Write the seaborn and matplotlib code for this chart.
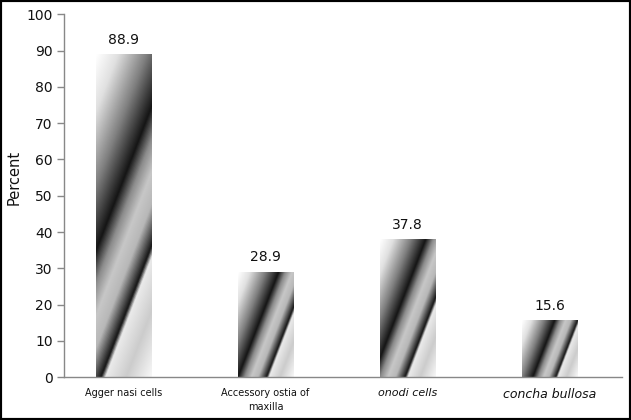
import numpy as np
import matplotlib
matplotlib.use("Agg")
import matplotlib.pyplot as plt
import seaborn as sns
from matplotlib.colors import LinearSegmentedColormap
from matplotlib.patches import Rectangle

categories = ["Agger nasi cells", "Accessory ostia of\nmaxilla", "onodi cells", "concha bullosa"]
values = [88.9, 28.9, 37.8, 15.6]
value_labels = ["88.9", "28.9", "37.8", "15.6"]
label_styles = ["normal", "normal", "italic", "italic"]
label_sizes = [7, 7, 8, 9]

sns.set_style("white")
plt.rcParams["font.family"] = ["DejaVu Sans"]

fig = plt.figure(figsize=(6.31, 4.20), dpi=100)
ax = fig.add_axes([0.101, 0.102, 0.885, 0.864])

sns.barplot(x=categories, y=values, width=0.39, color="white", ax=ax)

ax.set_xlim(-0.42, 3.51)
ax.set_ylim(0, 100)

# diagonal "chrome" gradient like the old Excel fill
stops = [(0.0, 1.0), (0.12, 0.88), (0.28, 0.50), (0.42, 0.08), (0.49, 0.55),
         (0.56, 0.78), (0.63, 0.72), (0.72, 0.08), (0.745, 0.92), (0.86, 0.80),
         (1.0, 0.97)]
cmap = LinearSegmentedColormap.from_list("chrome", [(p, (g, g, g)) for p, g in stops])
slope = 2.6

fig.canvas.draw()
for bar in ax.patches:
    x0, y0 = bar.get_x(), bar.get_y()
    w, h = bar.get_width(), bar.get_height()
    (px0, py0), (px1, py1) = ax.transData.transform([(x0, y0), (x0 + w, y0 + h)])
    pw, ph = px1 - px0, py1 - py0
    nx, ny = max(int(pw * 2), 2), max(int(ph * 2), 2)
    xx, yy = np.meshgrid(np.linspace(0, pw, nx), np.linspace(0, ph, ny))
    s = (slope * xx - yy + ph) / (slope * pw + ph)
    ax.imshow(s, cmap=cmap, vmin=0, vmax=1, origin="lower", aspect="auto",
              extent=(x0, x0 + w, y0, y0 + h), interpolation="bilinear", zorder=2)
    bar.set_facecolor("none")
    bar.set_edgecolor("none")

ax.set_xlim(-0.42, 3.51)
ax.set_ylim(0, 100)

for i, v in enumerate(values):
    ax.text(i, v + 2.2, value_labels[i], ha="center", va="bottom", fontsize=10, color="#111111")

ax.set_yticks(range(0, 101, 10))
ax.tick_params(axis="y", which="major", left=True, length=5, width=1, color="#888888",
               labelsize=10, labelcolor="#111111", pad=3)
ax.tick_params(axis="x", bottom=False, length=0, pad=8)
ax.set_xticks(range(len(categories)))
ax.set_xticklabels([])
for i, c in enumerate(categories):
    ax.text(i, -3.0, c, ha="center", va="top", fontsize=label_sizes[i],
            fontstyle=label_styles[i], color="#111111", linespacing=1.5)

ax.set_ylabel("Percent", fontsize=10.5, color="#111111", labelpad=6)
ax.yaxis.set_label_coords(-0.075, 0.55)

sns.despine(ax=ax)
for sp in ["left", "bottom"]:
    ax.spines[sp].set_color("#888888")
    ax.spines[sp].set_linewidth(1)

fig.patches.append(Rectangle((0, 0), 1, 1, transform=fig.transFigure, fill=False,
                             edgecolor="black", linewidth=3, zorder=10))

fig.savefig("out.png", dpi=100)
